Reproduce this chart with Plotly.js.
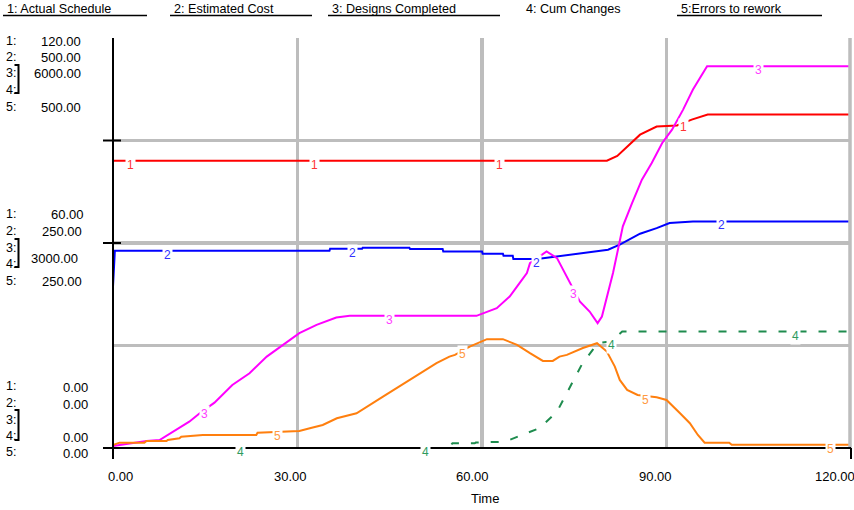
<!DOCTYPE html>
<html><head><meta charset="utf-8">
<script src="https://cdn.plot.ly/plotly-3.0.1.min.js"></script>
<style>html,body{margin:0;padding:0;background:#fff}#chart{width:854px;height:510px}</style>
</head><body><div id="chart"></div>
<script>
// ---- data ----
const seriesNames = ["1: Actual Schedule", "2: Estimated Cost", "3: Designs Completed", "4: Cum Changes", "5:Errors to rework"];
const seriesNumbers = ["1", "2", "3", "4", "5"];

const timeActualSchedule = [0, 80.3, 82, 83.6, 85.7, 88.4, 91.7, 94.1, 96.7, 120];
const actualSchedule = [84.1, 84.1, 85.5, 88.2, 91.7, 94.1, 94.4, 96.1, 97.6, 97.6];

const timeEstimatedCost = [0, 0.3, 35.2, 35.3, 40.5, 40.6, 48.2, 48.3, 53.6, 53.7, 60, 60.1, 63.4, 63.5, 65, 65.1, 69, 70.5, 73.8, 79.2, 80.5, 82.4, 85.7, 88.4, 90.5, 94.3, 120];
const estimatedCost = [197, 240.5, 240.5, 243, 243, 244.2, 244.2, 242.6, 242.6, 239.7, 239.7, 236.9, 236.9, 234.4, 234.4, 230.4, 230.4, 232, 235, 240.9, 241.8, 248, 261.3, 268.2, 274.3, 276.3, 276.3];

const timeDesignsCompleted = [0, 5.45, 7.57, 10.3, 12.4, 14.1, 16.5, 19.4, 22.2, 25.0, 27.6, 30.3, 33.1, 36.3, 38.5, 59.1, 62.4, 64.5, 66.1, 67.3, 67.8, 70.5, 72.2, 73.9, 75.9, 77.5, 78.8, 79.5, 80.3, 81.3, 82.1, 82.9, 84.4, 86.0, 87.6, 89.3, 90.9, 92.7, 94.3, 96.0, 96.6, 120];
const designsCompleted = [30, 103, 117, 264, 385, 508, 664, 923, 1094, 1338, 1509, 1681, 1802, 1909, 1934, 1934, 2047, 2217, 2413, 2560, 2706, 2876, 2779, 2486, 2144, 1997, 1827, 1924, 2217, 2560, 2901, 3243, 3585, 3927, 4171, 4464, 4659, 4952, 5245, 5490, 5587, 5587];

const timeCumChanges = [0, 54.5, 55.2, 58.8, 59, 62.4, 63.7, 66.5, 69.4, 72.2, 74.3, 76.2, 78.0, 78.8, 81, 82.8, 120];
const cumChanges = [0, 0, 69, 69, 80, 92, 92, 190, 293, 532, 880, 1216, 1436, 1534, 1560, 1704, 1704];

const timeErrorsToRework = [0, 1.06, 5.1, 5.45, 8.7, 8.9, 10.8, 11.1, 14.6, 23.3, 23.5, 28.4, 30.3, 32.0, 34.1, 36.4, 39.6, 43.9, 48.2, 52.6, 54.7, 55.6, 58.0, 60.8, 63.4, 65.7, 67.8, 69.9, 71.5, 72.6, 73.8, 76.4, 78.7, 80.3, 81.6, 82.4, 83.6, 85.3, 88.4, 90.0, 92.2, 93.8, 95.1, 96.2, 100.2, 100.6, 120];
const errorsToRework = [3.7, 6.5, 6.5, 8.5, 8.5, 9.8, 11.8, 13.8, 15.9, 15.9, 18.7, 19.9, 20.8, 24, 28.1, 36.3, 42.4, 62.6, 83, 103.4, 111.5, 113.6, 123.7, 132.7, 132.7, 125.8, 115.6, 106.2, 106.2, 111.5, 113.6, 122, 127.8, 117.6, 99.3, 83, 70.8, 64.7, 61.9, 58.6, 42.4, 30.2, 15.9, 6.5, 6.5, 4.0, 4.0];

const scaleMax = [120, 500, 6000, 6000, 500];
const scaleTopLabels = ["120.00", "500.00", "6000.00", "500.00"];
const scaleMidLabels = ["60.00", "250.00", "3000.00", "250.00"];
const scaleBotLabels = ["0.00", "0.00", "0.00", "0.00"];

const xTickValues = [0, 30, 60, 90, 120];
const xTickLabels = ["0.00", "30.00", "60.00", "90.00", "120.00"];
const xAxisTitle = "Time";

// label times along each curve (Stella-style numbered markers)
const labelTimes = [
  [2.8, 32.8, 62.8, 92.8],
  [8.9, 38.9, 68.9, 98.9],
  [14.9, 44.9, 74.9, 104.9],
  [20.8, 50.8, 81.0, 110.9],
  [26.8, 56.9, 86.6, 116.7]
];

// ---- styling ----
const FONT = "Liberation Sans, Arial, sans-serif";
const lineColors = ["#ff0000", "#0000ff", "#ff00ff", "#1e8c4e", "#ff7f0e"];
const labelColors = ["#ff3333", "#3030ff", "#ff40ff", "#2f9a5e", "#ff9940"];
const yRefs = ["y", "y2", "y3", "y3", "y4"];

const times = [timeActualSchedule, timeEstimatedCost, timeDesignsCompleted, timeCumChanges, timeErrorsToRework];
const values = [actualSchedule, estimatedCost, designsCompleted, cumChanges, errorsToRework];

const L = 113, R = 3, T = 38, B = 62, W = 854, H = 510;
const PW = W - L - R, PH = H - T - B;
const px = x => (x - L) / PW;
const py = y => (H - B - y) / PH;

function interp(ts, vs, t) {
  for (let i = 1; i < ts.length; i++) {
    if (t <= ts[i]) {
      const f = (t - ts[i-1]) / (ts[i] - ts[i-1] || 1);
      return vs[i-1] + f * (vs[i] - vs[i-1]);
    }
  }
  return vs[vs.length - 1];
}

const traces = times.map((ts, i) => ({
  x: ts, y: values[i], type: "scatter", mode: "lines",
  yaxis: yRefs[i], hoverinfo: "skip", showlegend: false,
  line: {color: lineColors[i], width: 2, dash: i === 3 ? "8px,12px" : "solid"}
}));

const annotations = [];
const shapes = [];

// right-edge gridline (time = 120)
shapes.push({type: "line", xref: "paper", yref: "paper", x0: px(850), x1: px(850), y0: 0, y1: 1, layer: "above", line: {color: "#bdbdbd", width: 3.5}});

// numbered labels on curves
labelTimes.forEach((lt, i) => {
  lt.forEach(t => {
    annotations.push({
      x: t, y: interp(times[i], values[i], t), xref: "x", yref: yRefs[i],
      text: seriesNumbers[i], showarrow: false, yshift: -4,
      bgcolor: "#ffffff", borderpad: 1,
      font: {family: FONT, size: 12, color: labelColors[i]}
    });
  });
});

// top legend with underlines
const legendX = [5, 172, 330, 524, 679];
const underline = [[3, 147], [170, 312], [328, 500], null, [677, 822]];
seriesNames.forEach((n, i) => {
  annotations.push({x: px(legendX[i]), y: py(9), xref: "paper", yref: "paper", xanchor: "left", yanchor: "middle",
    text: n, showarrow: false, font: {family: FONT, size: 12.6, color: "#000"}});
  if (underline[i]) shapes.push({type: "line", xref: "paper", yref: "paper", x0: px(underline[i][0]), x1: px(underline[i][1]), y0: py(15.5), y1: py(15.5), line: {color: "#000", width: 1.5}});
});

// left scale labels
function scaleGroup(rowYs, valLabels, valYs, valRight, bracket) {
  rowYs.forEach((y, i) => {
    annotations.push({x: px(4), y: py(y), xref: "paper", yref: "paper", xanchor: "left", yanchor: "middle",
      text: (i + 1) + ":", showarrow: false, font: {family: FONT, size: 12.5, color: "#000"}});
  });
  valLabels.forEach((t, i) => {
    annotations.push({x: px(valRight[i]), y: py(valYs[i]), xref: "paper", yref: "paper", xanchor: "right", yanchor: "middle",
      text: t, showarrow: false, font: {family: FONT, size: 13, color: "#000"}});
  });
  const [b0, b1] = bracket;
  shapes.push({type: "path", xref: "paper", yref: "paper", line: {color: "#000", width: 2},
    path: `M ${px(14.5)} ${py(b0)} L ${px(18.5)} ${py(b0)} L ${px(18.5)} ${py(b1)} L ${px(14.5)} ${py(b1)}`});
}
scaleGroup([41, 57, 73, 90, 107], scaleTopLabels, [41, 57, 74, 107], [83, 83, 83, 83], [65, 93]);
scaleGroup([214, 231, 248, 264, 281], scaleMidLabels, [214, 231, 258, 281], [86, 84, 80, 84], [239, 267]);
scaleGroup([386, 403, 420, 436, 452], scaleBotLabels, [387, 404, 437, 453], [90, 90, 90, 90], [410, 440]);

// x tick labels
const tickShift = [7, -7, -10, -11, -16];
xTickValues.forEach((v, i) => {
  annotations.push({x: v, y: py(476), xref: "x", yref: "paper", xanchor: "center", yanchor: "middle",
    xshift: tickShift[i], text: xTickLabels[i], showarrow: false, font: {family: FONT, size: 13, color: "#000"}});
});
annotations.push({x: px(485), y: py(498), xref: "paper", yref: "paper", xanchor: "center", yanchor: "middle",
  text: xAxisTitle, showarrow: false, font: {family: FONT, size: 13, color: "#000"}});

// axis frame lines
shapes.push({type: "line", xref: "paper", yref: "paper", x0: 0, x1: 0, y0: py(459), y1: 1, line: {color: "#000", width: 2}});
shapes.push({type: "line", xref: "paper", yref: "paper", x0: px(103), x1: 1, y0: 0, y1: 0, line: {color: "#000", width: 2}});
shapes.push({type: "line", xref: "paper", yref: "paper", x0: 1, x1: 1, y0: py(459), y1: 0, line: {color: "#000", width: 2}});
[0.5, 0.75].forEach(f => shapes.push({type: "line", xref: "paper", yref: "paper", x0: px(103), x1: px(121), y0: f, y1: f, line: {color: "#000", width: 2}}));

const hidden = {visible: false, fixedrange: true};
const layout = {
  width: W, height: H, margin: {l: L, r: R, t: T, b: B},
  paper_bgcolor: "#fff", plot_bgcolor: "#fff", showlegend: false,
  font: {family: FONT, size: 12, color: "#000"},
  xaxis: {range: [0, 120], tickvals: [30, 60, 90], showgrid: true, gridcolor: "#bdbdbd", gridwidth: 3.5,
    showticklabels: false, ticks: "", zeroline: false, showline: false, fixedrange: true},
  yaxis: {range: [0, scaleMax[0]], tickvals: [30, 60, 90], showgrid: true, gridcolor: "#bdbdbd", gridwidth: 3.5,
    showticklabels: false, ticks: "", zeroline: false, showline: false, fixedrange: true},
  yaxis2: Object.assign({range: [0, scaleMax[1]], overlaying: "y"}, hidden),
  yaxis3: Object.assign({range: [0, scaleMax[2]], overlaying: "y"}, hidden),
  yaxis4: Object.assign({range: [0, scaleMax[4]], overlaying: "y"}, hidden),
  annotations: annotations, shapes: shapes
};
Plotly.newPlot("chart", traces, layout, {displayModeBar: false, staticPlot: true});
</script></body></html>
